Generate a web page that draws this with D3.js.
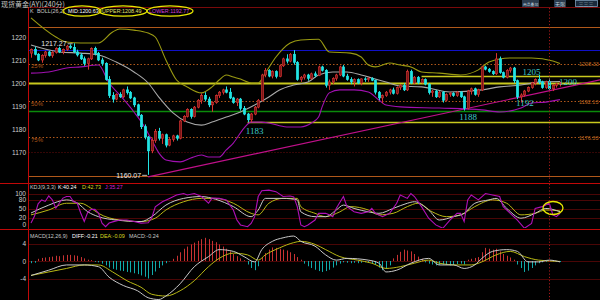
<!DOCTYPE html>
<html><head><meta charset="utf-8">
<script src="https://cdnjs.cloudflare.com/ajax/libs/d3/7.8.5/d3.min.js"></script>
<style>
body{margin:0;background:#000;}
svg{display:block;font-family:"Liberation Sans",Arial,sans-serif;}
</style></head><body>
<svg id="chart" width="600" height="300"></svg>
<script>
// candles, one row per 240-minute bar: [open, high, low, close]
const ohlc = [
  [1213,1215,1211,1214.5],[1214.5,1215.8,1212,1212.5],[1212.5,1213,1209.5,1210],[1210,1212.5,1208.8,1212],
  [1212,1214,1211,1213.5],[1213.5,1214,1211.5,1212],[1212,1213.8,1211,1213.2],[1213.2,1215.5,1212.8,1215],
  [1215,1215.8,1213,1213.5],[1213.5,1215,1212.5,1214.6],[1214.6,1216.5,1214,1216],[1216,1216.8,1214.8,1215.5],
  [1215.5,1217.27,1213,1213.5],[1213.5,1214.5,1211.5,1212.2],[1212.2,1213,1210,1210.5],[1210.5,1211.5,1207.5,1208.5],
  [1208.5,1211,1205.8,1210.5],[1210.5,1215.5,1210,1215],[1215,1215.8,1212,1212.8],[1212.8,1213.5,1209.5,1210],
  [1210,1211,1207.5,1208.5],[1208.5,1209,1201,1201.5],[1201.5,1203,1193.5,1194.5],[1194.5,1196,1191.5,1193],
  [1193,1195.5,1192.5,1195],[1195,1196,1193.5,1194],[1194,1197.5,1193.5,1197],[1197,1198.5,1195,1195.8],
  [1195.8,1196.5,1193,1193.5],[1193.5,1194,1189.5,1190.5],[1190.5,1191,1185.5,1186],[1186,1186.5,1180,1181],
  [1181,1182,1175.5,1176.5],[1176.5,1177,1160.07,1170.5],[1170.5,1176,1169.5,1175],[1175,1180,1174,1179],
  [1179,1180.5,1175,1176],[1176,1178,1173.5,1177.5],[1177.5,1178,1172,1173],[1173,1176,1172.5,1175.5],
  [1175.5,1177.5,1174.5,1177],[1177,1177.5,1175,1176],[1176,1184,1175.5,1183.5],[1183.5,1186,1183,1185.5],
  [1185.5,1189,1185,1188.5],[1188.5,1189,1184.5,1185.5],[1185.5,1190,1185,1189.5],[1189.5,1193,1189,1192.5],
  [1192.5,1195.5,1191,1194.5],[1194.5,1196,1192,1193],[1193,1194,1189.5,1190.5],[1190.5,1192,1187.5,1191.5],
  [1191.5,1195,1191,1194.5],[1194.5,1196.5,1193.5,1196],[1196,1197.5,1195,1197],[1197,1198.5,1195.5,1196],
  [1196,1197.8,1193,1193.5],[1193.5,1194,1191,1191.5],[1191.5,1193.5,1190,1193],[1193,1193.5,1188,1189],
  [1189,1190,1186,1186.5],[1186.5,1187,1183,1184],[1184,1187,1183,1186.5],[1186.5,1190,1186,1189.5],
  [1189.5,1193,1189,1192.5],[1192.5,1204,1192,1203.5],[1203.5,1206.5,1202.5,1205.5],[1205.5,1206,1202.5,1203],
  [1203,1205.5,1202,1205],[1205,1205.5,1202,1202.8],[1202.8,1208,1202.5,1207.5],[1207.5,1211,1207,1210.5],
  [1210.5,1212.5,1208.5,1209.5],[1209.5,1213,1209,1212.5],[1212.5,1214.3,1208,1209],[1209,1209.5,1201,1201.5],
  [1201.5,1203,1200.5,1202.5],[1202.5,1204,1201.5,1203.5],[1203.5,1204,1201,1202],[1202,1204.5,1201.5,1204],
  [1204,1205,1202.5,1203.2],[1203.2,1207.5,1203,1207],[1207,1207.5,1205,1205.5],[1205.5,1206,1198,1199],
  [1199,1201.5,1197,1200.5],[1200.5,1202.5,1199.5,1202],[1202,1204,1201,1203.5],[1203.5,1207.5,1203,1207],
  [1207,1207.8,1202.5,1203],[1203,1204,1201,1201.5],[1201.5,1202.5,1199.5,1200.5],[1200.5,1202,1198.5,1201.5],
  [1201.5,1202,1199.5,1200],[1200,1202,1199,1201.8],[1201.8,1202.5,1200.5,1201.5],[1201.5,1202.5,1200.5,1202],
  [1202,1202.5,1200.8,1201.2],[1201.2,1201.5,1195,1196],[1196,1196.5,1192.5,1193.5],[1193.5,1195,1191.2,1194.5],
  [1194.5,1196.5,1194,1196],[1196,1197.5,1195,1197],[1197,1198,1195,1195.5],[1195.5,1198.5,1195,1198],
  [1198,1199.5,1197,1199],[1199,1200,1196.5,1197],[1197,1205.8,1196.5,1205],[1205,1205.8,1199.5,1200],
  [1200,1203,1199.5,1202.5],[1202.5,1203,1199.5,1200.2],[1200.2,1202,1199.8,1201.5],[1201.5,1202,1199,1199.5],
  [1199.5,1200,1195,1195.8],[1195.8,1197,1194,1196.5],[1196.5,1197,1193.5,1194],[1194,1196.5,1193.5,1196],
  [1196,1196.5,1191.5,1192.5],[1192.5,1195.5,1192,1195],[1195,1196,1194,1195.5],[1195.5,1196,1194,1194.5],
  [1194.5,1196.5,1194,1196],[1196,1196.5,1193.5,1194],[1194,1194.5,1188,1189],[1189,1197,1188.5,1196.5],
  [1196.5,1198,1195,1197.5],[1197.5,1198,1194.5,1195],[1195,1197.5,1194,1197],[1197,1207.5,1196.5,1207],
  [1207,1207.5,1205.5,1206],[1206,1206.5,1204.5,1205],[1205,1205.5,1203.5,1204],[1204,1213,1203.5,1210.5],
  [1210.5,1211.5,1204,1204.5],[1204.5,1205,1202,1202.5],[1202.5,1206,1202,1205.5],[1205.5,1207,1204.5,1206.5],
  [1206.5,1207,1200,1201],[1201,1201.5,1193,1194],[1194,1195.5,1191.5,1194.8],[1194.8,1197,1194,1196.5],
  [1196.5,1198.5,1196,1198],[1198,1200.5,1197.5,1200],[1200,1202,1199,1201.5],[1201.5,1203.5,1199.5,1200.5],
  [1200.5,1201,1197.5,1198],[1198,1201,1197.5,1200.5],[1200.5,1202,1197,1197.5],[1197.5,1199.5,1196.5,1199],
  [1199,1200,1198,1199.6],[1199.6,1200.5,1198.5,1200]
];

// BOLL(26,2): [bar index, price]
const bollUpper = [[0,1228.3],[7,1220],[10,1217.8],[14,1217.4],[19,1217.4],[23,1222.2],[25,1223.5],[29,1223],
  [33,1221.7],[35,1220],[38,1210],[41,1201.3],[44,1198.3],[48,1195.7],[51,1198.3],[53,1201.3],[55,1203.5],
  [57,1202.6],[59,1201.7],[62,1200],[64,1200],[66,1204.3],[69,1211.3],[73,1217.4],[76,1218.7],[81,1219],
  [84,1213.5],[90,1213],[93,1211.3],[95,1207.8],[97,1207],[101,1208.7],[104,1207.8],[107,1207],[110,1204.8],
  [115,1204.3],[121,1203.5],[126,1205.7],[129,1209.1],[135,1210.9],[141,1210.9],[147,1209.6],[149,1208.49]];
const bollMid = [[0,1216.5],[8,1213.5],[14,1213],[19,1212.2],[24,1209.1],[29,1204.8],[33,1200],[36,1193.9],
  [40,1187],[44,1183],[48,1181.7],[51,1183],[55,1185.2],[59,1187.4],[63,1190.4],[67,1193.9],[70,1197],
  [74,1199.1],[78,1200.4],[81,1203.5],[85,1204.8],[89,1204.8],[93,1203.5],[96,1202.2],[100,1200.4],
  [104,1198.7],[110,1198.3],[112,1197.8],[118,1196.1],[127,1197],[132,1198.3],[138,1199.1],[143,1200.4],[149,1200.63]];
const bollLower = [[0,1204.3],[5,1204.8],[10,1206.5],[14,1207],[19,1207.8],[22,1200],[25,1194.8],[29,1187.4],
  [32,1180.9],[34,1175.2],[36,1169.6],[38,1166.5],[42,1165.7],[45,1167.4],[48,1168.7],[50,1167.8],[53,1167.8],
  [55,1170.9],[57,1173.9],[60,1180.4],[62,1183],[65,1183],[67,1182.6],[72,1180.9],[76,1180.9],[79,1182.6],
  [81,1185.2],[82,1189.6],[84,1195.7],[87,1197],[91,1197],[95,1196.1],[98,1192.6],[100,1190.4],[104,1189.6],
  [115,1189.1],[127,1188.3],[132,1187.4],[138,1189.1],[141,1191.3],[145,1191.7],[149,1192.77]];

// KDJ(9,3,3): [bar index, value]
const kdjK = [[0,36],[5,62],[10,79],[13,69],[16,40],[19,24],[24,13],[31,8],[34,24],[38,62],[43,84],[48,90],
  [52,81],[57,57],[62,24],[64,46],[66,84],[71,84],[75,79],[76,40],[80,24],[83,24],[86,46],[88,62],[91,51],
  [95,40],[98,35],[102,51],[106,68],[108,73],[112,46],[115,13],[119,24],[122,35],[125,68],[129,79],[131,84],
  [134,51],[138,19],[142,35],[145,51],[149,40.24]];
const kdjD = [[0,30],[5,46],[10,68],[14,68],[17,51],[19,35],[25,13],[31,8],[35,19],[38,46],[43,73],[48,84],
  [52,84],[57,68],[62,35],[64,30],[67,68],[71,84],[75,84],[76,57],[80,35],[83,24],[87,40],[90,57],[95,46],
  [98,30],[102,35],[106,57],[109,68],[113,40],[117,24],[121,30],[125,57],[130,79],[134,68],[138,30],[142,35],
  [145,46],[149,42.73]];
const kdjJ = [[0,3],[1,26],[2,66],[3,79],[4,74],[5,92],[6,79],[7,52],[8,69],[9,85],[10,90],[11,90],[12,73],
  [13,69],[14,36],[15,8],[16,39],[17,48],[18,48],[19,36],[20,3],[21,-9],[22,3],[23,7],[25,13],[27,13],[29,8],
  [31,3],[33,4],[34,20],[35,56],[37,73],[39,84],[41,95],[43,100],[44,95],[46,100],[48,90],[50,68],[51,85],
  [53,84],[55,79],[57,46],[58,13],[59,-3],[61,-9],[62,2],[63,24],[64,90],[65,109],[67,111],[69,106],[71,90],
  [73,92],[74,89],[75,57],[76,-3],[77,-9],[78,-3],[80,13],[81,35],[83,35],[84,30],[85,24],[86,52],[88,90],
  [89,57],[91,40],[93,35],[95,40],[96,51],[97,35],[99,24],[101,35],[103,68],[104,95],[106,84],[107,100],
  [108,90],[110,57],[112,19],[114,-3],[116,-14],[118,13],[120,35],[121,35],[122,8],[123,79],[124,95],[126,79],
  [128,100],[130,95],[132,90],[133,57],[135,35],[137,13],[139,-14],[141,2],[142,51],[144,57],[146,68],[147,30],
  [148,24],[149,35.27]];

// MACD(12,26,9)
const macdDiff = [[0,-3.3],[5,-2.1],[10,-0.9],[15,-0.9],[19,-1.3],[22,-3.7],[26,-5.6],[30,-6.8],[33,-8.4],
  [36,-8.8],[38,-8],[42,-5.2],[46,-1.3],[50,1],[53,2.6],[57,2.2],[60,1],[63,-0.2],[65,2.6],[68,4.5],[71,5.3],
  [74,5.7],[76,4.5],[80,3.4],[83,1.4],[86,0.2],[89,0.6],[95,0.2],[98,-0.5],[100,-2.5],[103,-2.1],[107,-0.5],
  [112,0.6],[115,-0.9],[119,-0.9],[122,-1.7],[125,-0.9],[127,0.6],[130,2.2],[134,2.6],[137,2.2],[140,-0.2],
  [143,-0.2],[146,0.2],[149,-0.21]];
const macdDea = [[0,-3.3],[5,-2.5],[10,-1.7],[15,-0.9],[19,-0.9],[23,-2.5],[27,-4.5],[31,-6],[34,-7.6],[38,-8],
  [42,-6.8],[46,-4.5],[50,-1.3],[53,0.6],[57,1.8],[61,1.4],[64,0.2],[66,1.4],[70,3],[74,4.2],[76,4.5],[80,3.8],
  [83,2.6],[87,1],[92,0.2],[96,-0.5],[100,-1.7],[104,-1.3],[108,-0.5],[112,0.2],[115,-0.5],[120,-0.9],
  [124,-0.9],[127,-0.2],[131,1.4],[135,2.2],[139,1],[143,0.2],[149,-0.09]];
const macdHist = [-0.5,-0.4,
  0.5,0.7,0.8,0.9,1.0,1.2,1.1,1.3,1.4,1.4,1.3,1.2,0.9,0.6,
  0.3,0.2,-0.2,-0.3,
  -0.6,-1.0,-1.5,-1.8,-2.0,-2.2,-2.3,-2.5,-2.6,-2.8,-3.0,-3.3,-3.6,-4.0,-3.2,-2.4,
  -1.6,-1.0,-0.5,-0.1,
  0.5,1.2,2.0,2.8,3.3,3.8,4.2,4.6,5.0,5.3,5.0,4.6,4.3,3.8,3.3,2.8,2.2,1.6,1.1,0.6,0.2,
  -0.8,-1.6,-2.1,-1.2,
  0.8,1.8,2.6,3.1,3.0,2.8,2.6,2.4,2.0,1.6,0.9,0.3,
  -0.6,-1.2,-1.6,-2.0,-2.3,-2.5,-2.3,-2.0,-1.5,-1.0,-0.6,
  -0.3,-0.4,-0.5,-0.4,-0.5,-0.4,-0.3,-0.4,-0.6,-0.9,
  -1.5,-2.1,-1.8,-1.0,
  0.6,1.4,2.1,2.6,2.4,2.2,1.6,1.0,0.5,
  -0.3,-0.6,-0.8,-1.0,-0.9,-0.8,-0.9,-1.0,-0.9,-0.7,-0.6,-0.8,
  0.3,0.5,0.7,0.9,
  2.0,3.0,2.8,2.6,2.8,2.2,1.6,1.2,0.8,0.3,
  -0.8,-1.6,-2.5,-2.2,-1.6,-1.0,-0.5,
  -0.3,-0.2,-0.2,-0.1,-0.1,-0.24];

// axis ticks
const priceTicks = [1170,1180,1190,1200,1210,1220];
const kdjTicks = [0,20,50,80,100];
const macdTicks = [-4,0,4];

// drawn levels
const fibLevels = [[1208.33,'25%'],[1192.13,'50%'],[1176.33,'75%']];
const orangeLevels = [1224.3,1159.6];
const blueLevel = 1214.3;
const greenLevel = 1187.8;
const yellowLevels = [[1200,0],[1203.2,110],[1183,61]]; // [price, first bar]
const trendAnchors = [[33,1159.2],[149,1197.6]];
const cursorBar = 146;
const extremes = [[12,1217.27],[33,1160.07]];
const priceMarks = [['1183',61,1183],['1188',122,1188],['1192',138,1192],['1205',141,1205],['1200',149,1200]];

const W = 600, H = 300;
const svg = d3.select('#chart');
svg.append('rect').attr('width', W).attr('height', H).attr('fill', '#000');

const x = d3.scaleLinear().domain([0, 149]).range([31, 560]);
const yP = d3.scaleLinear().domain([1160, 1230]).range([175, 14]);
const yK = d3.scaleLinear().domain([0, 100]).range([224, 193.5]);
const yM = d3.scaleLinear().domain([0, 4]).range([261, 243.5]);
const xL = 28.5, xR = W;

const defs = svg.append('defs');
defs.append('clipPath').attr('id', 'cMain').append('rect').attr('x', 29).attr('y', 8).attr('width', 571).attr('height', 174);
defs.append('clipPath').attr('id', 'cKdj').append('rect').attr('x', 29).attr('y', 184).attr('width', 571).attr('height', 44);
defs.append('clipPath').attr('id', 'cMacd').append('rect').attr('x', 29).attr('y', 230).attr('width', 571).attr('height', 70);

const main = svg.append('g').attr('clip-path', 'url(#cMain)');
const kdj = svg.append('g').attr('clip-path', 'url(#cKdj)');
const macd = svg.append('g').attr('clip-path', 'url(#cMacd)');

function hline(g, y, color, x0 = xL, dash = null, w = 1) {
  const yy = Math.round(y) + 0.5;
  g.append('line').attr('x1', x0).attr('x2', xR).attr('y1', yy).attr('y2', yy)
    .attr('stroke', color).attr('stroke-width', w).attr('stroke-dasharray', dash);
}

// ---- main panel levels
hline(main, yP(1170), '#6a0c0c', xL, '1,2');
orangeLevels.forEach(p => hline(main, yP(p), '#b0581a'));
hline(main, yP(blueLevel), '#1010c8');
hline(main, yP(greenLevel), '#0a8a0a', xL, null, 1.6);
fibLevels.forEach(d => hline(main, yP(d[0]), '#b0581a', xL, '1.5,2'));
yellowLevels.forEach(d => hline(main, yP(d[0]), '#c8c81e', d[1] ? x(d[1]) : xL, null, d[1] ? 1.3 : 1.8));

// trend line, extended to the right edge
const slope = (yP(trendAnchors[1][1]) - yP(trendAnchors[0][1])) / (x(trendAnchors[1][0]) - x(trendAnchors[0][0]));
const tx0 = x(trendAnchors[0][0]), ty0 = yP(trendAnchors[0][1]);
main.append('line').attr('x1', tx0).attr('y1', ty0).attr('x2', xR).attr('y2', ty0 + slope * (xR - tx0))
  .attr('stroke', '#c0108a').attr('stroke-width', 1.2);

// bollinger bands
const bandLine = d3.line().x(d => x(d[0])).y(d => yP(d[1])).curve(d3.curveMonotoneX);
[[bollUpper, '#9a9a12'], [bollMid, '#a8a8a8'], [bollLower, '#a010b0']].forEach(([data, c]) => {
  main.append('path').attr('d', bandLine(data)).attr('fill', 'none').attr('stroke', c).attr('stroke-width', 1.1);
});

// candles
const bw = 2.4;
const cg = main.append('g');
ohlc.forEach((d, i) => {
  const [o, h, l, c] = d;
  const up = c >= o;
  const cx = Math.round(x(i)) + 0.5;
  const col = up ? '#d83232' : '#22e4e4';
  cg.append('line').attr('x1', cx).attr('x2', cx).attr('y1', yP(h)).attr('y2', yP(l)).attr('stroke', col).attr('stroke-width', 1);
  const top = yP(Math.max(o, c)), bot = yP(Math.min(o, c));
  cg.append('rect').attr('x', cx - bw / 2).attr('y', top).attr('width', bw).attr('height', Math.max(0.8, bot - top))
    .attr('fill', up ? '#7a1616' : '#22e4e4').attr('stroke', col).attr('stroke-width', 0.6);
});

// fib labels
fibLevels.forEach(d => {
  main.append('text').attr('x', 31).attr('y', yP(d[0]) + 4.5).text(d[1])
    .attr('fill', '#b0581a').attr('font-size', 6);
  main.append('text').attr('x', 579).attr('y', yP(d[0]) + 2.5).text(d[0].toFixed(2))
    .attr('fill', '#c06a20').attr('font-size', 5.5);
});

// extreme labels with a short leader
extremes.forEach((d, k) => {
  const px = x(d[0]), py = yP(d[1]);
  const dy = k === 0 ? 2.5 : 3;
  main.append('text').attr('x', px - 7).attr('y', py + dy).attr('text-anchor', 'end')
    .attr('fill', '#e8e8e8').attr('font-size', 7).text(d[1].toFixed(2));
  main.append('line').attr('x1', px - 6).attr('x2', px - 1).attr('y1', py + 0.5).attr('y2', py + 0.5)
    .attr('stroke', '#e8e8e8').attr('stroke-width', 0.8);
});

// cyan price marks
const markOffset = { '1183': [7, 11.5], '1188': [4, 9.5], '1192': [4, 5], '1205': [0, 3.5], '1200': [8, 1.5] };
priceMarks.forEach(([t, i, p]) => {
  const o = markOffset[t];
  main.append('text').attr('x', x(i) + o[0]).attr('y', yP(p) + o[1]).attr('text-anchor', 'middle')
    .attr('font-family', '"Liberation Serif",serif').attr('font-size', 9).attr('fill', '#3cc8c8').text(t);
});

// ---- KDJ panel
kdjTicks.filter(v => v > 0).forEach(v => hline(kdj, yK(v), '#4a0606'));
const kLine = d3.line().x(d => x(d[0])).y(d => yK(d[1]));
kdj.append('path').attr('d', kLine.curve(d3.curveMonotoneX)(kdjD)).attr('fill', 'none').attr('stroke', '#b8b814').attr('stroke-width', 1);
kdj.append('path').attr('d', kLine.curve(d3.curveMonotoneX)(kdjK)).attr('fill', 'none').attr('stroke', '#c8c8c8').attr('stroke-width', 1);
kdj.append('path').attr('d', kLine.curve(d3.curveLinear)(kdjJ)).attr('fill', 'none').attr('stroke', '#b010b8').attr('stroke-width', 1.1);
svg.append('ellipse').attr('cx', 553).attr('cy', 208).attr('rx', 10).attr('ry', 6.5)
  .attr('fill', 'none').attr('stroke', '#e8e800').attr('stroke-width', 1.3);

// ---- MACD panel
macdTicks.forEach(v => hline(macd, yM(v), '#4a0606'));
macdHist.forEach((v, i) => {
  const cx = Math.round(x(i)) + 0.5;
  macd.append('line').attr('x1', cx).attr('x2', cx).attr('y1', yM(0)).attr('y2', yM(v))
    .attr('stroke', v >= 0 ? '#c83232' : '#10aaaa').attr('stroke-width', 1);
});
const mLine = d3.line().x(d => x(d[0])).y(d => yM(d[1])).curve(d3.curveMonotoneX);
macd.append('path').attr('d', mLine(macdDea)).attr('fill', 'none').attr('stroke', '#b8b814').attr('stroke-width', 1);
macd.append('path').attr('d', mLine(macdDiff)).attr('fill', 'none').attr('stroke', '#c8c8c8').attr('stroke-width', 1);

// ---- frame
svg.append('line').attr('x1', xL).attr('x2', xR).attr('y1', 7.5).attr('y2', 7.5).attr('stroke', '#7a0a0a');
svg.append('line').attr('x1', 0).attr('x2', xR).attr('y1', 183.5).attr('y2', 183.5).attr('stroke', '#c00808');
svg.append('line').attr('x1', 0).attr('x2', xR).attr('y1', 229.5).attr('y2', 229.5).attr('stroke', '#c00808');
svg.append('line').attr('x1', xL).attr('x2', xL).attr('y1', 7).attr('y2', H).attr('stroke', '#c00808');
const cx0 = Math.round(x(cursorBar)) + 0.5;
svg.append('line').attr('x1', cx0).attr('x2', cx0).attr('y1', 8).attr('y2', H)
  .attr('stroke', '#a01818').attr('stroke-dasharray', '1.2,2');

// ---- axes
function leftAxis(scale, ticks) {
  svg.append('g').attr('transform', 'translate(26,0)')
    .call(d3.axisLeft(scale).tickValues(ticks).tickSize(0).tickPadding(0).tickFormat(d => String(d)))
    .call(g => g.select('.domain').remove())
    .attr('font-size', 6.5).attr('font-family', '"Liberation Sans",Arial,sans-serif')
    .selectAll('text').attr('fill', '#cfcfcf');
}
leftAxis(yP, priceTicks);
leftAxis(yK, kdjTicks);
leftAxis(yM, macdTicks);

// ---- headers
function header(y, items) {
  items.forEach(([t, x0, c]) => {
    svg.append('text').attr('x', x0).attr('y', y).attr('fill', c).attr('font-size', 5.4).text(t);
  });
}
svg.append('text').attr('x', 1).attr('y', 6.5).attr('fill', '#c8c8c8').attr('font-size', 7)
  .attr('font-family', '"Noto Sans CJK SC",sans-serif').text('现货黄金(AY)(240分)');
header(13, [['K', 30, '#c8c8c8'], ['BOLL(26,2)', 37, '#c8c8c8'], ['MID:1200.63', 68, '#ffffff'],
  ['UPPER:1208.49', 102, '#e0e070'], ['LOWER:1192.77', 149, '#d040d8']]);
[[82, 19], [123, 24], [170, 23]].forEach(([cx, rx]) => {
  svg.append('ellipse').attr('cx', cx).attr('cy', 11).attr('rx', rx).attr('ry', 5.2)
    .attr('fill', 'none').attr('stroke', '#e8e800').attr('stroke-width', 1.2);
});
header(189, [['KDJ(9,3,3)', 30, '#c8c8c8'], ['K:40.24', 58, '#ffffff'], ['D:42.73', 82, '#d8d820'],
  ['J:35.27', 105, '#d020d8']]);
header(237.5, [['MACD(12,26,9)', 30, '#c8c8c8'], ['DIFF:-0.21', 72, '#ffffff'], ['DEA:-0.09', 100, '#d8d820'],
  ['MACD:-0.24', 129, '#c8c8c8']]);

// top right buttons
svg.append('rect').attr('x', 522).attr('y', 0).attr('width', 17).attr('height', 7).attr('fill', '#2a3a4c');
svg.append('text').attr('x', 523).attr('y', 6).attr('fill', '#b8c8d8').attr('font-size', 3.8)
  .attr('font-family', '"Noto Sans CJK SC",sans-serif').text('商品叠加');
svg.append('rect').attr('x', 554).attr('y', 0).attr('width', 12).attr('height', 7).attr('fill', '#2a3a4c');
svg.append('text').attr('x', 555).attr('y', 6).attr('fill', '#b8c8d8').attr('font-size', 5)
  .attr('font-family', '"Noto Sans CJK SC",sans-serif').text('无限');
svg.append('rect').attr('x', 575.5).attr('y', 0.5).attr('width', 22).attr('height', 6).attr('fill', '#1a2a3c').attr('stroke', '#7a9ab8').attr('stroke-width', 0.8);
svg.append('text').attr('x', 578.5).attr('y', 5.5).attr('fill', '#b8c8d8').attr('font-size', 5)
  .attr('font-family', '"Noto Sans CJK SC",sans-serif').text('三三三');
</script>
</body></html>
